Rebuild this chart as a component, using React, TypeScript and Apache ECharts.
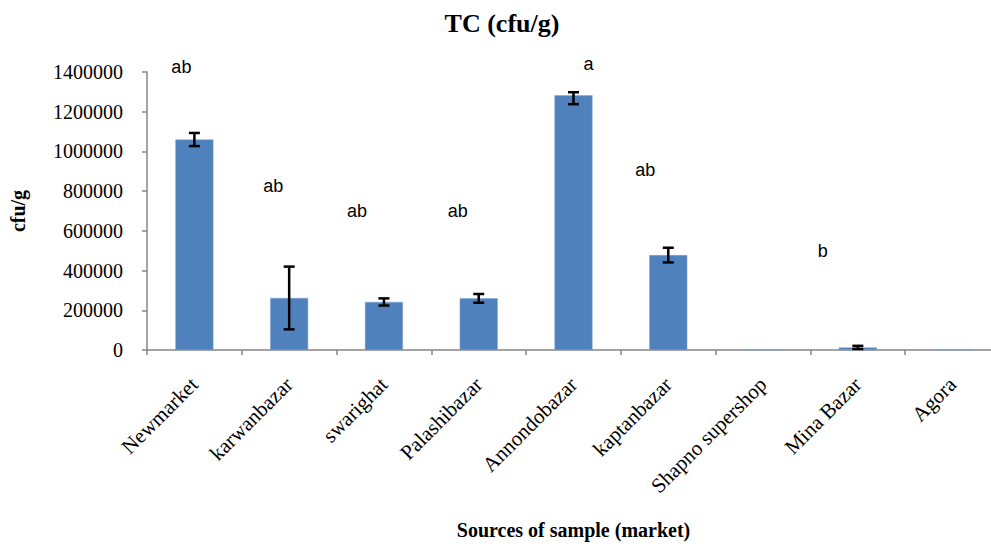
import React, { useEffect, useRef } from "react";
import * as echarts from "echarts";

const categories = [
  "Newmarket",
  "karwanbazar",
  "swarighat",
  "Palashibazar",
  "Annondobazar",
  "kaptanbazar",
  "Shapno supershop",
  "Mina Bazar",
  "Agora",
];
const means = [1060000, 262000, 242000, 260000, 1283000, 478000, 0, 13000, 0];
const errLow = [33000, 158000, 18000, 22000, 45000, 37000, 0, 8000, 0];
const errHigh = [33000, 158000, 18000, 22000, 15000, 37000, 0, 8000, 0];
const letters = ["ab", "ab", "ab", "ab", "a", "ab", "", "b", ""];
const letterValues = [1427000, 827000, 701000, 701000, 1440000, 906000, 0, 500000, 0];
// horizontal pixel shift of each letter from its category centre (layout only)
const letterShift = [-13, -16, -27, -21, 15, -23, 0, -35, 0];
const yTicks = { min: 0, max: 1400000, interval: 200000 };

export default function App() {
  const ref = useRef<HTMLDivElement>(null);
  useEffect(() => {
    if (!ref.current) return;
    const chart = echarts.init(ref.current, null, { renderer: "svg" });
    const serif = "'Liberation Serif', 'Times New Roman', serif";
    const axisColor = "#868686";
    const errData = categories.map((_, i) => [i, means[i] - errLow[i], means[i] + errHigh[i]]);
    const letterData = categories.map((_, i) => [i, letterValues[i]]);
    chart.setOption({
      animation: false,
      backgroundColor: "#ffffff",
      title: {
        text: "TC (cfu/g)",
        left: 497,
        textAlign: "center",
        top: 5,
        textStyle: { fontFamily: serif, fontWeight: "bold", fontSize: 26, color: "#000" },
      },
      grid: {
        left: 147,
        top: 72,
        width: 853,
        height: 278,
        containLabel: false,
        outerBoundsMode: "none",
      },
      xAxis: {
        type: "category",
        data: categories,
        name: "Sources of sample (market)",
        nameLocation: "middle",
        nameGap: 170,
        nameTextStyle: { fontFamily: serif, fontWeight: "bold", fontSize: 20, color: "#000" },
        axisLine: { lineStyle: { color: axisColor, width: 1.5 } },
        axisTick: { show: true, length: 5, lineStyle: { color: axisColor, width: 1.5 } },
        axisLabel: {
          interval: 0,
          rotate: 45,
          margin: 31,
          fontFamily: serif,
          fontSize: 21,
          color: "#000",
        },
        splitLine: { show: false },
      },
      yAxis: {
        type: "value",
        min: yTicks.min,
        max: yTicks.max,
        interval: yTicks.interval,
        name: "cfu/g",
        nameLocation: "middle",
        nameGap: 119,
        nameRotate: 90,
        nameTextStyle: { fontFamily: serif, fontWeight: "bold", fontSize: 20, color: "#000" },
        axisLine: { show: true, lineStyle: { color: axisColor, width: 1.5 } },
        axisTick: { show: true, length: 5, lineStyle: { color: axisColor, width: 1.5 } },
        axisLabel: {
          margin: 24,
          fontFamily: serif,
          fontSize: 20,
          color: "#000",
          formatter: (v: number) => String(v),
        },
        splitLine: { show: false },
      },
      series: [
        {
          type: "bar",
          data: means,
          barWidth: 38,
          itemStyle: { color: "#4F81BD", borderColor: "#7FA3D3", borderWidth: 0.5 },
        },
        {
          type: "custom",
          data: errData,
          z: 10,
          renderItem: (params: any, api: any) => {
            const i = api.value(0);
            const lo = api.value(1);
            const hi = api.value(2);
            if (lo === hi) return null;
            const pLo = api.coord([i, lo]);
            const pHi = api.coord([i, hi]);
            const hw = 5.5;
            const style = { stroke: "#000", lineWidth: 2.5 };
            return {
              type: "group",
              children: [
                { type: "line", shape: { x1: pLo[0], y1: pLo[1], x2: pHi[0], y2: pHi[1] }, style },
                { type: "line", shape: { x1: pLo[0] - hw, y1: pLo[1], x2: pLo[0] + hw, y2: pLo[1] }, style },
                { type: "line", shape: { x1: pHi[0] - hw, y1: pHi[1], x2: pHi[0] + hw, y2: pHi[1] }, style },
              ],
            };
          },
        },
        {
          type: "custom",
          data: letterData,
          z: 11,
          renderItem: (params: any, api: any) => {
            const i = api.value(0);
            const txt = letters[i];
            if (!txt) return null;
            const p = api.coord([i, api.value(1)]);
            return {
              type: "text",
              x: p[0] + letterShift[i],
              y: p[1],
              style: {
                text: txt,
                align: "center",
                verticalAlign: "middle",
                fontFamily: "'Liberation Sans', Arial, sans-serif",
                fontSize: 18,
                fill: "#000",
              },
            };
          },
        },
      ],
    });
    return () => chart.dispose();
  }, []);
  return <div ref={ref} style={{ width: 991, height: 547, position: "absolute", left: 0, top: 0 }} />;
}
